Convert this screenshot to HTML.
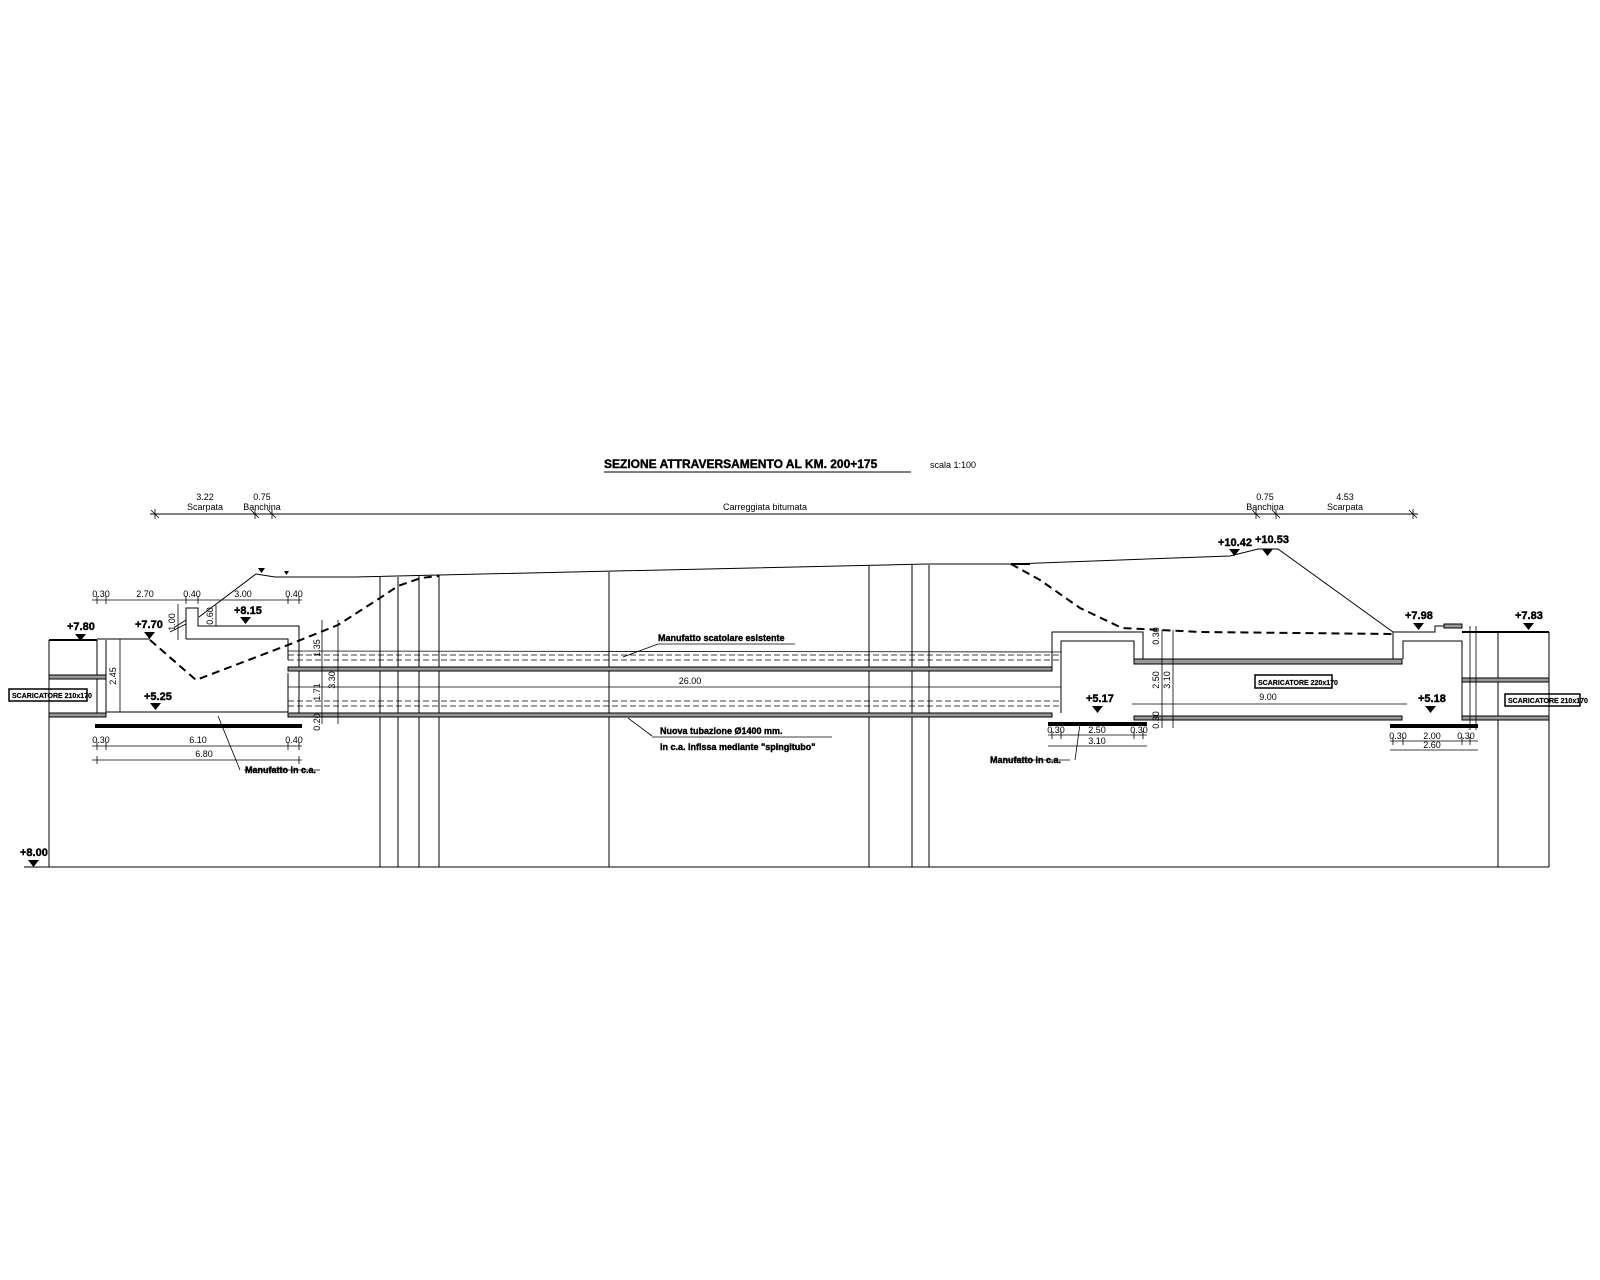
<!DOCTYPE html>
<html><head><meta charset="utf-8"><style>
html,body{margin:0;padding:0;background:#fff;}
svg{display:block;}
text{font-family:"Liberation Sans",sans-serif;fill:#000;}
.b{font-weight:bold;font-size:11px;stroke:#000;stroke-width:0.4;}
.s{font-size:9px;}
</style></head><body>
<svg width="1600" height="1280" viewBox="0 0 1600 1280" xmlns="http://www.w3.org/2000/svg">
<g stroke="#000" fill="none" stroke-width="1">
<!-- title -->
<line x1="604" y1="472" x2="911" y2="472"/>
<!-- top dimension line -->
<line x1="150" y1="514" x2="1418" y2="514"/>
<g stroke-width="0.8">
<path d="M151 510l8 8M155 509v10M251 510l8 8M255 509v10M268 510l8 8M272 509v10M1252 510l8 8M1256 509v10M1272 510l8 8M1276 509v10M1409 510l8 8M1413 509v10"/>
</g>
<!-- ground base -->
<line x1="24" y1="867" x2="1549" y2="867"/>
<line x1="49" y1="640" x2="49" y2="867"/>
<g>
<line x1="380" y1="577" x2="380" y2="867"/><line x1="398" y1="577" x2="398" y2="867"/>
<line x1="419" y1="576" x2="419" y2="867"/><line x1="439" y1="575" x2="439" y2="867"/>
<line x1="609" y1="572" x2="609" y2="867"/><line x1="869" y1="566" x2="869" y2="867"/>
<line x1="912" y1="565" x2="912" y2="867"/><line x1="929" y1="565" x2="929" y2="867"/>
<line x1="1498" y1="632" x2="1498" y2="867"/><line x1="1549" y1="632" x2="1549" y2="867"/>
</g>
<!-- road surface -->
<path d="M199 617 L256 574 L275 577 L300 577 L355 577 L439 575 L927 564 L1011 564 L1230 556 L1258 549 L1278 549 L1393 632"/>
<path d="M1011 564 L1030 564" stroke-width="2"/>
<!-- dashed ground left -->
<path d="M150 640 L196 680 L288 645 L338 625 L380 598 L398 586 L421 578 L439 576" stroke-width="2" stroke-dasharray="8 5"/>
<!-- dashed ground right -->
<path d="M1011 564 L1040 580 L1080 608 L1122 628 L1200 632 L1393 634" stroke-width="2" stroke-dasharray="8 5"/>
<!-- left culvert -->
<path d="M49 640 L97 640" stroke-width="2"/>
<path d="M97 640 L97 717 M106 640 L106 717 M97 639 L150 639"/>
<path d="M186 639 L186 608 L198 608 L198 626 L299 626 L299 717 M186 639 L288 639 L288 660 M288 673 L288 712 M106 712 L288 712"/>
<line x1="95" y1="726" x2="302" y2="726" stroke-width="4"/>
<path d="M175 627 L186 620 M170 632 L186 624" stroke-width="0.8"/>
<!-- left pipe bands -->
<rect x="49" y="675" width="57" height="4" fill="#999"/>
<rect x="49" y="713" width="57" height="4" fill="#999"/>
<!-- middle pipes -->
<rect x="288" y="667" width="764" height="4" fill="#999"/>
<rect x="288" y="713" width="764" height="4" fill="#999"/>
<g stroke-dasharray="6 3" stroke-width="0.8">
<line x1="288" y1="655" x2="1061" y2="655"/><line x1="288" y1="660" x2="1061" y2="660"/>
<line x1="288" y1="701" x2="1061" y2="701"/><line x1="288" y1="706" x2="1061" y2="706"/>
</g>
<line x1="288" y1="651" x2="1061" y2="652" stroke-width="0.8"/>
<line x1="288" y1="687" x2="1061" y2="687" stroke-width="0.8"/>
<!-- middle culvert -->
<path d="M1052 667 L1052 632 L1143 632 L1143 659 M1061 713 L1061 641 L1134 641 L1134 659"/>
<line x1="1048" y1="724" x2="1147" y2="724" stroke-width="4"/>
<rect x="1134" y="659" width="268" height="5" fill="#999"/>
<rect x="1134" y="716" width="268" height="4" fill="#999"/>
<line x1="1132" y1="704" x2="1407" y2="704" stroke-width="0.8"/>
<!-- right culvert -->
<path d="M1393 659 L1393 632 L1435 632 L1435 626 L1462 626 M1403 659 L1403 641 L1462 641 L1462 720"/>
<rect x="1444" y="624" width="18" height="4" fill="#999"/>
<line x1="1462" y1="632" x2="1549" y2="632" stroke-width="2"/>
<line x1="1390" y1="726" x2="1478" y2="726" stroke-width="4"/>
<rect x="1462" y="678" width="87" height="4" fill="#999"/>
<rect x="1462" y="716" width="87" height="4" fill="#999"/>
<line x1="1470" y1="626" x2="1470" y2="730" stroke-width="0.8"/>
<line x1="1476" y1="626" x2="1476" y2="730" stroke-width="0.8"/>
<!-- left dims -->
<g stroke-width="0.8">
<line x1="92" y1="600" x2="302" y2="600"/>
<path d="M97 596v8M106 596v8M186 596v8M198 596v8M288 596v8M299 596v8"/>
<line x1="92" y1="746" x2="302" y2="746"/>
<path d="M97 742v8M106 742v8M288 742v8M299 742v8"/>
<line x1="92" y1="760" x2="302" y2="760"/>
<path d="M97 756v8M299 756v8"/>
<line x1="120" y1="639" x2="120" y2="712"/>
<line x1="178" y1="604" x2="178" y2="640"/>
<line x1="216" y1="605" x2="216" y2="626"/>
<line x1="322" y1="620" x2="322" y2="724"/>
<line x1="338" y1="620" x2="338" y2="724"/>
<line x1="218" y1="716" x2="240" y2="770"/>
<line x1="244" y1="770" x2="320" y2="770"/>
<!-- middle leaders -->
<line x1="623" y1="657" x2="658" y2="644"/><line x1="658" y1="644" x2="795" y2="644"/>
<line x1="628" y1="718" x2="652" y2="736"/><line x1="652" y1="737" x2="832" y2="737"/>
<!-- middle culvert dims -->
<line x1="1162" y1="630" x2="1162" y2="728"/><line x1="1173" y1="630" x2="1173" y2="728"/>
<line x1="1048" y1="735" x2="1147" y2="735"/><path d="M1052 731v8M1061 731v8M1134 731v8M1143 731v8"/>
<line x1="1048" y1="746" x2="1147" y2="746"/>
<line x1="1080" y1="724" x2="1075" y2="760"/>
<line x1="1004" y1="760" x2="1070" y2="760"/>
<line x1="1390" y1="741" x2="1478" y2="741"/><path d="M1393 737v8M1403 737v8M1462 737v8M1470 737v8"/>
<line x1="1390" y1="750" x2="1478" y2="750"/>
</g>
<!-- triangles -->
<g fill="#000" stroke="none">
<path d="M75 634h11l-5.5 7z"/>
<path d="M144 632h11l-5.5 7z"/>
<path d="M240 617h11l-5.5 7z"/>
<path d="M150 703h11l-5.5 7z"/>
<path d="M1092 706h11l-5.5 7z"/>
<path d="M1425 706h11l-5.5 7z"/>
<path d="M1413 623h11l-5.5 7z"/>
<path d="M1523 623h11l-5.5 7z"/>
<path d="M1229 549h11l-5.5 7z"/>
<path d="M1262 549h11l-5.5 7z"/>
<path d="M28 860h11l-5.5 7z"/>
<path d="M258 568h7l-3.5 5zM284 571h5l-2.5 4z"/>
</g>
<!-- label boxes -->
<rect x="9" y="689" width="78" height="12" stroke-width="1.5"/>
<rect x="1255" y="675" width="77" height="13" stroke-width="1.5"/>
<rect x="1505" y="694" width="75" height="12" stroke-width="1.5"/>
</g>
<g>
<text x="604" y="468" class="b" style="font-size:12px">SEZIONE ATTRAVERSAMENTO AL KM. 200+175</text>
<text x="930" y="468" class="s">scala 1:100</text>
<text x="205" y="500" class="s" text-anchor="middle">3.22</text>
<text x="205" y="510" class="s" text-anchor="middle">Scarpata</text>
<text x="262" y="500" class="s" text-anchor="middle">0.75</text>
<text x="262" y="510" class="s" text-anchor="middle">Banchina</text>
<text x="765" y="510" class="s" text-anchor="middle">Carreggiata bitumata</text>
<text x="1265" y="500" class="s" text-anchor="middle">0.75</text>
<text x="1265" y="510" class="s" text-anchor="middle">Banchina</text>
<text x="1345" y="500" class="s" text-anchor="middle">4.53</text>
<text x="1345" y="510" class="s" text-anchor="middle">Scarpata</text>
<text x="1218" y="546" class="b">+10.42</text>
<text x="1255" y="543" class="b">+10.53</text>
<text x="67" y="630" class="b">+7.80</text>
<text x="135" y="628" class="b">+7.70</text>
<text x="234" y="614" class="b">+8.15</text>
<text x="144" y="700" class="b">+5.25</text>
<text x="1086" y="702" class="b">+5.17</text>
<text x="1418" y="702" class="b">+5.18</text>
<text x="1405" y="619" class="b">+7.98</text>
<text x="1515" y="619" class="b">+7.83</text>
<text x="20" y="856" class="b">+8.00</text>
<text x="101" y="597" class="s" text-anchor="middle">0.30</text>
<text x="145" y="597" class="s" text-anchor="middle">2.70</text>
<text x="192" y="597" class="s" text-anchor="middle">0.40</text>
<text x="243" y="597" class="s" text-anchor="middle">3.00</text>
<text x="294" y="597" class="s" text-anchor="middle">0.40</text>
<text x="101" y="743" class="s" text-anchor="middle">0.30</text>
<text x="198" y="743" class="s" text-anchor="middle">6.10</text>
<text x="294" y="743" class="s" text-anchor="middle">0.40</text>
<text x="204" y="757" class="s" text-anchor="middle">6.80</text>
<text x="245" y="773" class="b" style="font-size:9px">Manufatto in c.a.</text>
<text x="116" y="676" class="s" transform="rotate(-90 116 676)" text-anchor="middle">2.45</text>
<text x="175" y="622" class="s" transform="rotate(-90 175 622)" text-anchor="middle">1.00</text>
<text x="213" y="616" class="s" transform="rotate(-90 213 616)" text-anchor="middle">0.60</text>
<text x="320" y="648" class="s" transform="rotate(-90 320 648)" text-anchor="middle">1.35</text>
<text x="335" y="680" class="s" transform="rotate(-90 335 680)" text-anchor="middle">3.30</text>
<text x="320" y="692" class="s" transform="rotate(-90 320 692)" text-anchor="middle">1.71</text>
<text x="320" y="722" class="s" transform="rotate(-90 320 722)" text-anchor="middle">0.20</text>
<text x="12" y="698" class="b" style="font-size:7px;stroke-width:0.2">SCARICATORE 210x170</text>
<text x="658" y="641" class="b" style="font-size:9px">Manufatto scatolare esistente</text>
<text x="690" y="684" class="s" text-anchor="middle">26.00</text>
<text x="660" y="734" class="b" style="font-size:9px">Nuova tubazione Ø1400 mm.</text>
<text x="660" y="750" class="b" style="font-size:9px">in c.a. infissa mediante "spingitubo"</text>
<text x="1159" y="680" class="s" transform="rotate(-90 1159 680)" text-anchor="middle">2.50</text>
<text x="1170" y="680" class="s" transform="rotate(-90 1170 680)" text-anchor="middle">3.10</text>
<text x="1159" y="636" class="s" transform="rotate(-90 1159 636)" text-anchor="middle">0.30</text>
<text x="1159" y="720" class="s" transform="rotate(-90 1159 720)" text-anchor="middle">0.30</text>
<text x="1258" y="685" class="b" style="font-size:7px;stroke-width:0.2">SCARICATORE 220x170</text>
<text x="1268" y="700" class="s" text-anchor="middle">9.00</text>
<text x="1056" y="733" class="s" text-anchor="middle">0.30</text>
<text x="1097" y="733" class="s" text-anchor="middle">2.50</text>
<text x="1139" y="733" class="s" text-anchor="middle">0.30</text>
<text x="1097" y="744" class="s" text-anchor="middle">3.10</text>
<text x="990" y="763" class="b" style="font-size:9px">Manufatto in c.a.</text>
<text x="1398" y="739" class="s" text-anchor="middle">0.30</text>
<text x="1432" y="739" class="s" text-anchor="middle">2.00</text>
<text x="1466" y="739" class="s" text-anchor="middle">0.30</text>
<text x="1432" y="748" class="s" text-anchor="middle">2.60</text>
<text x="1508" y="703" class="b" style="font-size:7px;stroke-width:0.2">SCARICATORE 210x170</text>
</g>
</svg>
</body></html>
